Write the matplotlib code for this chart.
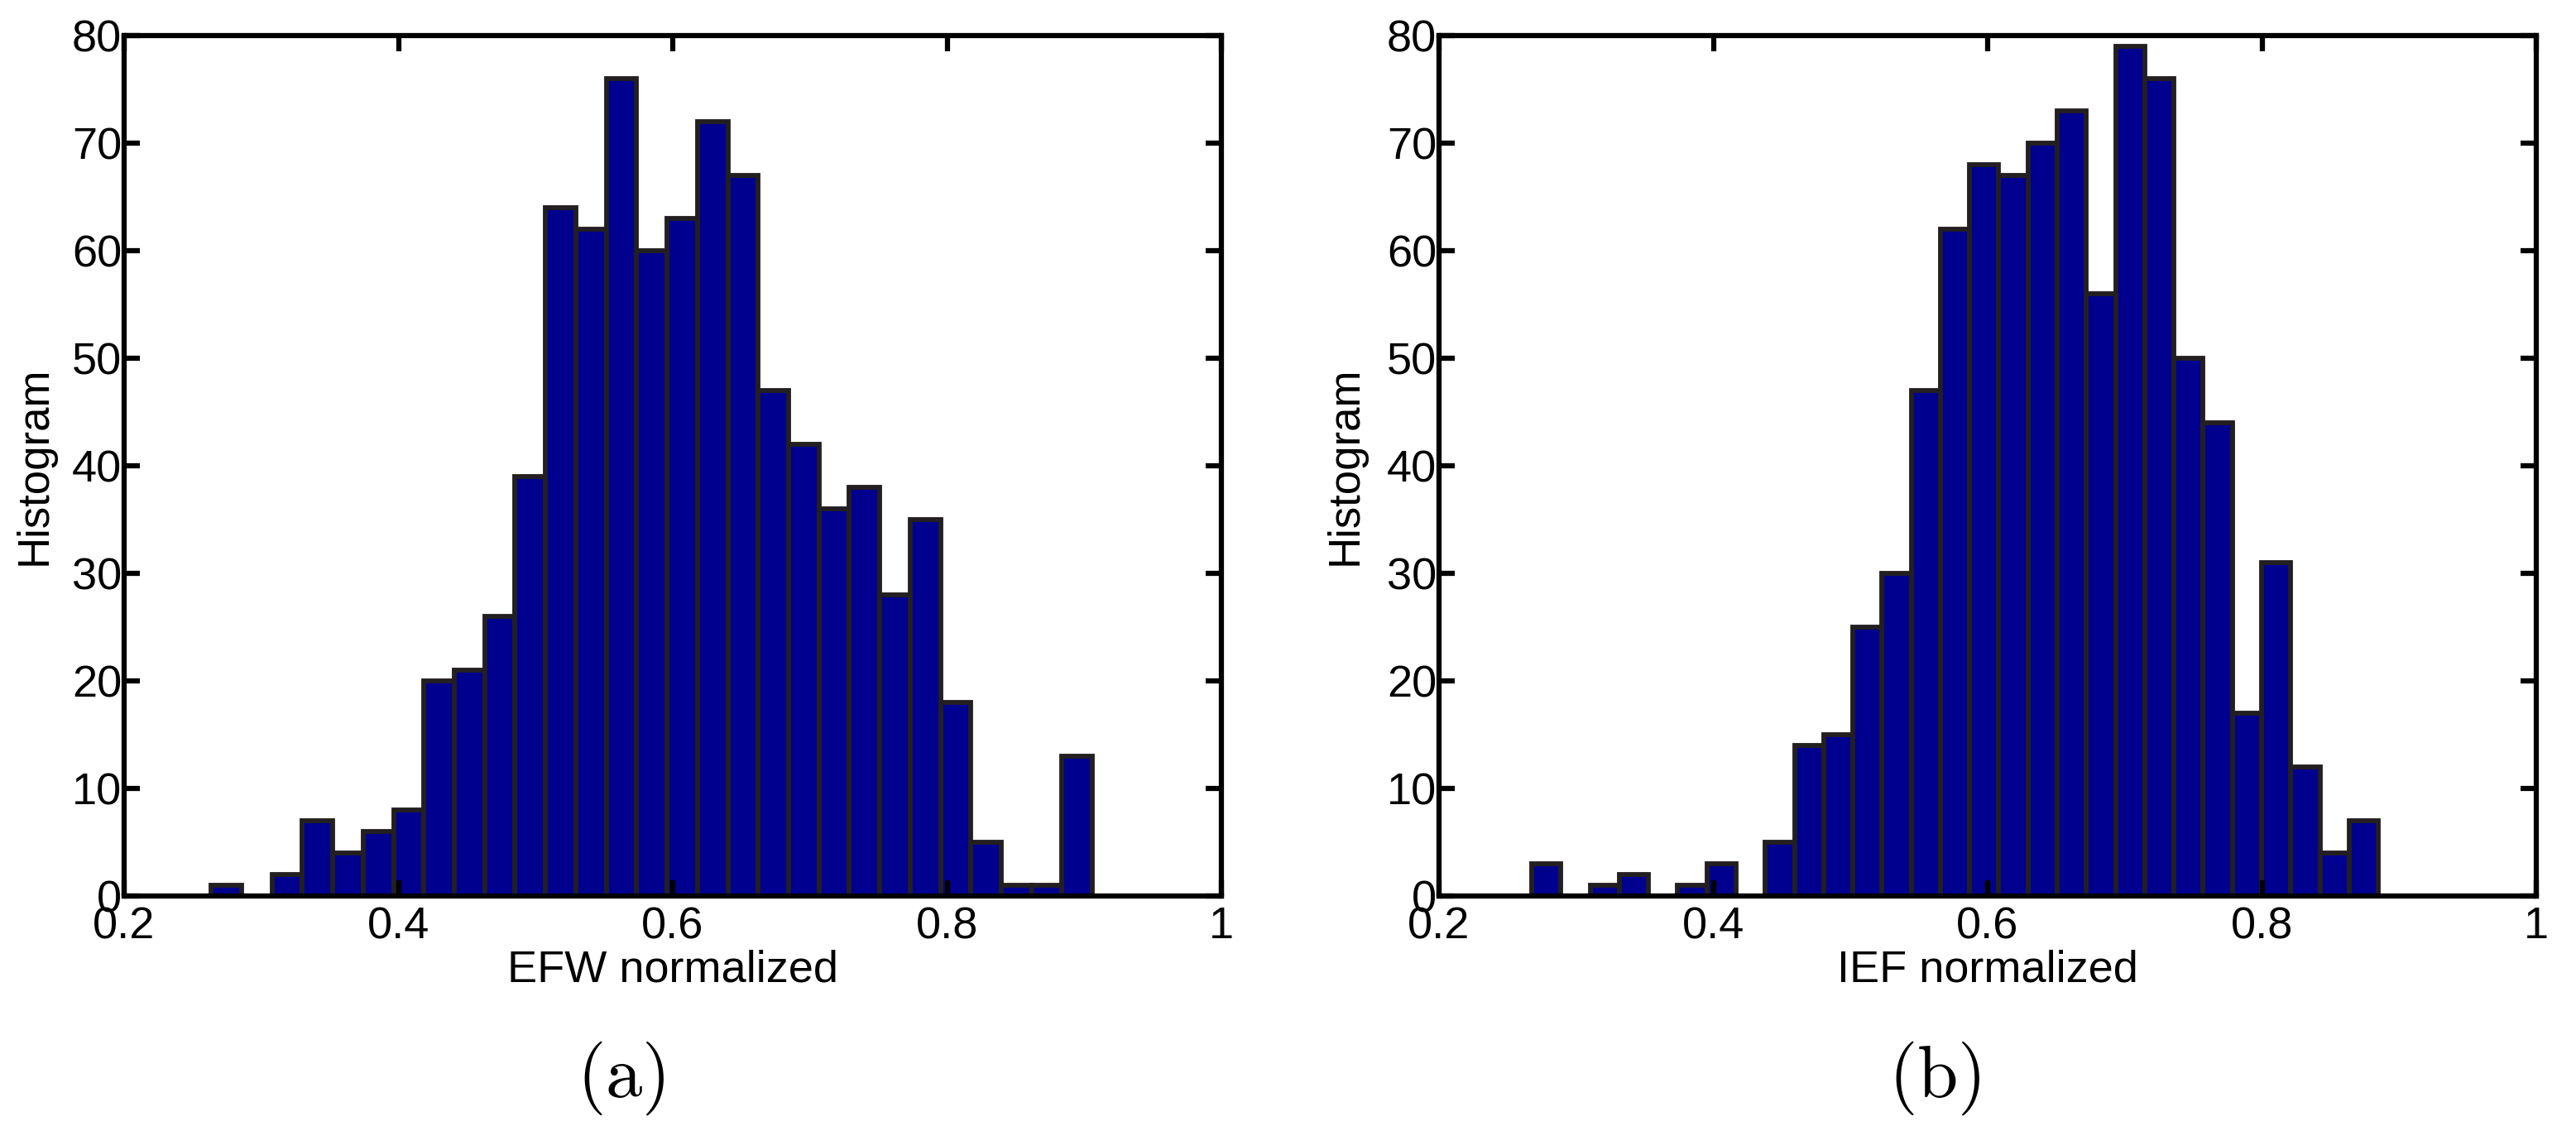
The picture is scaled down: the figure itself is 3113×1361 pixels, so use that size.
import numpy as np
import matplotlib
matplotlib.use("Agg")
import matplotlib.pyplot as plt

plt.rcParams['font.family'] = ['Liberation Sans', 'DejaVu Sans']
plt.rcParams['mathtext.fontset'] = 'cm'

# ---- data ----
efw_counts = [1, 0, 2, 7, 4, 6, 8, 20, 21, 26, 39, 64, 62, 76, 60, 63, 72, 67,
              47, 42, 36, 38, 28, 35, 18, 5, 1, 1, 13]
efw_range = (0.2635, 0.906)

ief_counts = [3, 0, 1, 2, 0, 1, 3, 0, 5, 14, 15, 25, 30, 47, 62, 68, 67, 70,
              73, 56, 79, 76, 50, 44, 17, 31, 12, 4, 7]
ief_range = (0.2676, 0.8848)

xlabels = ["EFW normalized", "IEF normalized"]
captions = ["(a)", "(b)"]
xticks = [0.2, 0.4, 0.6, 0.8, 1.0]
xticklabels = ["0.2", "0.4", "0.6", "0.8", "1"]
yticks = list(range(0, 81, 10))

W, H = 3113, 1361
fig = plt.figure(figsize=(W / 100, H / 100), dpi=100)

face = '#00008F'
edge = '#231F20'

axes_left = [150, 1739]
ax_w, ax_top, ax_bot = 1326, 43, 1083
ylabel_x = [-0.0626, -0.067]
caption_x = [750, 2338]

datasets = [(efw_counts, efw_range), (ief_counts, ief_range)]

for i, (counts, rng) in enumerate(datasets):
    ax = fig.add_axes([axes_left[i] / W, 1 - ax_bot / H, ax_w / W, (ax_bot - ax_top) / H])
    edges = np.linspace(rng[0], rng[1], len(counts) + 1)
    ax.bar(edges[:-1], counts, width=np.diff(edges), align='edge',
           color=face, edgecolor=edge, linewidth=4.2)
    ax.set_xlim(0.2, 1.0)
    ax.set_ylim(0, 80)
    ax.set_xticks(xticks)
    ax.set_xticklabels(xticklabels)
    ax.set_yticks(yticks)
    for s in ax.spines.values():
        s.set_linewidth(4.5)
        s.set_color('black')
        s.set_zorder(3)
    ax.tick_params(direction='in', length=14, width=4.5, top=True, right=True,
                   labelsize=39, colors='black')
    ax.tick_params(axis='x', pad=9)
    ax.tick_params(axis='y', pad=2)
    ax.set_xlabel(xlabels[i], fontsize=39)
    ax.xaxis.set_label_coords(0.5, -0.062)
    ax.set_ylabel("Histogram", fontsize=38)
    ax.yaxis.set_label_coords(ylabel_x[i], 0.5)
    fig.text(caption_x[i] / W, 1 - 1303 / H, r'$(\mathrm{' + captions[i][1] + r'})$',
             fontsize=64, ha='center', va='center')

fig.savefig("out.png", dpi=100)
